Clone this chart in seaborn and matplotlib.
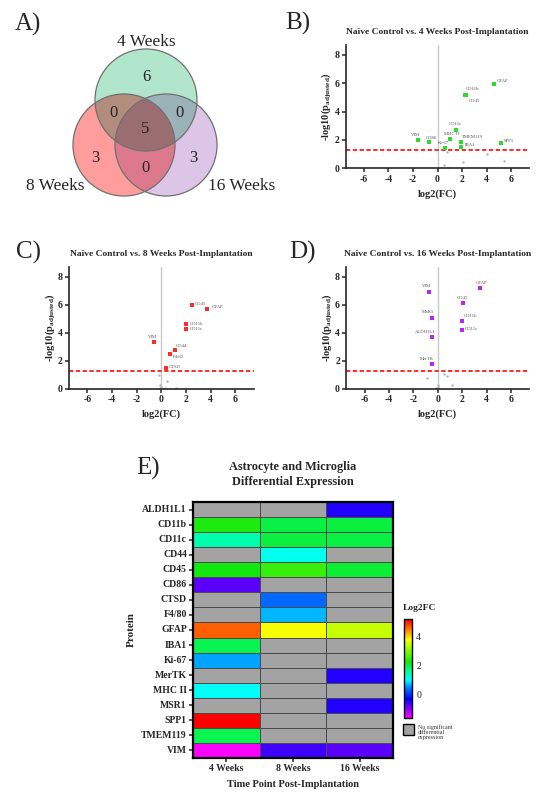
import numpy as np
import pandas as pd
import matplotlib
matplotlib.use("Agg")
import matplotlib.pyplot as plt
from matplotlib.patches import Circle, Rectangle
from matplotlib.colors import LinearSegmentedColormap, ListedColormap, to_rgb
import seaborn as sns

sns.set_style("ticks")
plt.rcParams["font.family"] = ["Liberation Serif", "DejaVu Serif"]
plt.rcParams["mathtext.fontset"] = "custom"
plt.rcParams["mathtext.rm"] = "Liberation Serif"
plt.rcParams["mathtext.bf"] = "Liberation Serif:bold"
plt.rcParams["axes.unicode_minus"] = False

W, H = 539, 794

# ---- data ----
venn_labels = ["4 Weeks", "8 Weeks", "16 Weeks"]
venn_counts = [6, 0, 0, 5, 3, 0, 3]  # 4 only, 4&8, 4&16, all, 8 only, 8&16, 16 only

wk4_protein = ["GFAP", "CD11b", "CD45", "CD11c", "MHC II", "TMEM119", "IBA1", "Ki-67", "VIM", "CD86", "SPP1"]
wk4_log2fc = [4.63, 2.30, 2.22, 1.53, 1.04, 1.91, 1.91, 0.63, -1.60, -0.71, 5.20]
wk4_neglogp = [5.95, 5.20, 5.14, 2.70, 2.05, 1.83, 1.53, 1.46, 2.00, 1.83, 1.76]
wk4_ns_log2fc = [0.76, 4.03, 5.39, 2.07, 0.49, 0.85]
wk4_ns_neglogp = [1.17, 1.00, 0.54, 0.42, 0.24, 0.05]

wk8_protein = ["CD45", "GFAP", "CD11b", "CD11c", "VIM", "CD44", "F4/80", "CTSD"]
wk8_log2fc = [2.47, 3.74, 1.98, 2.00, -0.57, 1.11, 0.71, 0.36]
wk8_neglogp = [5.98, 5.70, 4.60, 4.25, 3.37, 2.78, 2.49, 1.47]
wk8_ns_log2fc = [-0.20, 0.50, -0.10, 0.00, 1.20, -0.10, 0.30]
wk8_ns_neglogp = [1.00, 0.55, 0.30, 0.15, 0.10, 0.05, 0.05]

wk16_protein = ["GFAP", "VIM", "CD45", "MSR1", "CD11b", "CD11c", "ALDH1L1", "MerTK"]
wk16_log2fc = [3.47, -0.71, 2.05, -0.44, 1.99, 1.97, -0.44, -0.44]
wk16_neglogp = [7.17, 6.93, 6.15, 5.08, 4.87, 4.20, 3.68, 1.76]
wk16_ns_log2fc = [-0.90, 0.50, 0.80, 0.00, 0.05, 1.20, -0.10]
wk16_ns_neglogp = [0.75, 1.10, 0.90, 0.30, 0.15, 0.25, 0.08]

heat_proteins = ["ALDH1L1", "CD11b", "CD11c", "CD44", "CD45", "CD86", "CTSD", "F4/80", "GFAP",
                 "IBA1", "Ki-67", "MerTK", "MHC II", "MSR1", "SPP1", "TMEM119", "VIM"]
timepoints = ["4 Weeks", "8 Weeks", "16 Weeks"]

# label offsets (points) and alignment for volcano annotations
wk4_offsets = [(2, 2, "left"), (0, 4, "left"), (3, -4, "left"), (-1, 4, "center"), (1, 4, "center"),
               (1, 4, "left"), (3, 1, "left"), (-1, 3.5, "center"), (-2, 3.5, "center"), (2, 3.5, "center"),
               (2, 2, "left")]
wk8_offsets = [(2, 0.5, "left"), (3, 1.5, "left"), (3, 0, "left"), (3, 0, "left"), (-1, 3.5, "center"),
               (0.5, 3, "left"), (2, -2, "left"), (2, 1, "left")]
wk16_offsets = [(1, 4, "center"), (-2, 4, "center"), (0, 3.5, "center"), (-3, 4, "center"), (1, 3, "left"),
                (2, 1, "left"), (-5, 3.5, "center"), (-4, 4, "center")]

fig = plt.figure(figsize=(W / 100, H / 100), dpi=100)


def px_axes(x0, y0, x1, y1):
    return fig.add_axes([x0 / W, 1 - y1 / H, (x1 - x0) / W, (y1 - y0) / H])


def ftext(x, y, s, **kw):
    fig.text(x / W, 1 - y / H, s, ha=kw.pop("ha", "center"), va=kw.pop("va", "center"), **kw)


# ---- A) Venn (multiply-blended fills) ----
ax_a = px_axes(0, 0, 270, 230)
venn_circles = [((146, 100), "#b3e6cc"), ((124, 145), "#ff9c9c"), ((166, 145), "#dcc6e6")]
R = 51
gx, gy = np.meshgrid(np.arange(0, 270, 0.5) + 0.25, np.arange(0, 230, 0.5) + 0.25)
img = np.ones(gx.shape + (3,))
for (cx, cy), col in venn_circles:
    inside = (gx - cx) ** 2 + (gy - cy) ** 2 <= R ** 2
    img[inside] *= np.array(to_rgb(col))
ax_a.imshow(img, extent=(0, 270, 230, 0), interpolation="bilinear")
for (cx, cy), col in venn_circles:
    ax_a.add_patch(Circle((cx, cy), R, fc="none", ec="#707070", lw=0.9))
ax_a.set_xlim(0, 270)
ax_a.set_ylim(230, 0)
ax_a.axis("off")
count_pos = [(146, 77), (113, 113), (179, 113), (145, 129), (95, 158), (145, 168), (193, 158)]
for (x, y), n in zip(count_pos, venn_counts):
    ax_a.text(x, y, str(n), ha="center", va="center", fontsize=12)
for (x, y), lab in zip([(146, 42), (55, 186), (242, 186)], venn_labels):
    ax_a.text(x, y, lab, ha="center", va="center", fontsize=12.5)
ftext(28, 24, "A)", fontsize=18)


# ---- volcano plots ----
def volcano(ax, prot, fc, p, ns_fc, ns_p, offsets, color, title):
    sig = pd.DataFrame({"protein": prot, "log2fc": fc, "neglogp": p})
    ns = pd.DataFrame({"log2fc": ns_fc, "neglogp": ns_p})
    ax.axvline(0, color="#c8c8c8", lw=1, zorder=0)
    ax.axhline(-np.log10(0.05), color="#ff2a2a", lw=1.4, ls=(0, (2.2, 1.3)), zorder=1)
    sns.scatterplot(data=ns, x="log2fc", y="neglogp", color="#b5b5b5", s=3, linewidth=0, ax=ax, zorder=2)
    sns.scatterplot(data=sig, x="log2fc", y="neglogp", color=color, s=8, marker="s", linewidth=0, ax=ax, zorder=3)
    for (_, r), (dx, dy, ha) in zip(sig.iterrows(), offsets):
        ax.annotate(r["protein"], (r["log2fc"], r["neglogp"]), xytext=(dx, dy), textcoords="offset points",
                    ha=ha, va="center", fontsize=3.4, color="#555555")
    ax.set_xlim(-7.5, 7.5)
    ax.set_ylim(0, 8.7)
    ax.set_xticks(range(-6, 7, 2))
    ax.set_yticks(range(0, 9, 2))
    ax.tick_params(labelsize=7, length=3, width=1.1, pad=1.5)
    for lab in ax.get_xticklabels() + ax.get_yticklabels():
        lab.set_fontweight("bold")
    ax.set_xlabel("log2(FC)", fontsize=7.5, fontweight="bold", labelpad=4)
    ax.set_ylabel(r"-log10(p$_{\mathbf{adjusted}}$)", fontsize=7.5, fontweight="bold", labelpad=0)
    ax.set_title(title, fontsize=6.8, fontweight="bold", pad=8)
    sns.despine(ax=ax)
    for s in ["left", "bottom"]:
        ax.spines[s].set_linewidth(1.2)


ax_b = px_axes(345.6, 45, 529.4, 168.3)
volcano(ax_b, wk4_protein, wk4_log2fc, wk4_neglogp, wk4_ns_log2fc, wk4_ns_neglogp, wk4_offsets,
        "#2edb2e", "Naïve Control vs. 4 Weeks Post-Implantation")
ftext(298, 23, "B)", fontsize=18)

ax_c = px_axes(69, 266.8, 253.6, 389)
volcano(ax_c, wk8_protein, wk8_log2fc, wk8_neglogp, wk8_ns_log2fc, wk8_ns_neglogp, wk8_offsets,
        "#ff2a2a", "Naïve Control vs. 8 Weeks Post-Implantation")
ftext(28, 252, "C)", fontsize=18)

ax_d = px_axes(346.2, 266.8, 529.2, 389)
volcano(ax_d, wk16_protein, wk16_log2fc, wk16_neglogp, wk16_ns_log2fc, wk16_ns_neglogp, wk16_offsets,
        "#b825f5", "Naïve Control vs. 16 Weeks Post-Implantation")
ftext(302, 252, "D)", fontsize=18)

# ---- E) heatmap ----
heat = pd.DataFrame(np.nan, index=heat_proteins, columns=timepoints)
for tp, prot, fc in zip(timepoints, [wk4_protein, wk8_protein, wk16_protein], [wk4_log2fc, wk8_log2fc, wk16_log2fc]):
    for pr, v in zip(prot, fc):
        heat.loc[pr, tp] = v

vmin, vmax = -1.6, 5.2
nodes = [(-1.6, "#ff00ff"), (-0.8, "#6a00ff"), (-0.3, "#0000ff"), (0.4, "#0070ff"), (1.0, "#00ffff"),
         (1.6, "#00ffa0"), (2.2, "#10e810"), (3.3, "#aaff00"), (3.8, "#ffff00"), (4.6, "#ff6600"), (5.2, "#ff0000")]
cmap = LinearSegmentedColormap.from_list("l2fc", [((v - vmin) / (vmax - vmin), c) for v, c in nodes])

ax_e = px_axes(193, 502, 393, 758)
cax = px_axes(404, 619, 412, 718)
sns.heatmap(np.ones(heat.shape), mask=heat.notna().values, cmap=ListedColormap(["#a3a3a3"]), cbar=False,
            linewidths=0.7, linecolor="#4a4a4a", ax=ax_e)
sns.heatmap(heat, mask=heat.isna(), cmap=cmap, vmin=vmin, vmax=vmax, linewidths=0.7, linecolor="#4a4a4a",
            ax=ax_e, cbar_ax=cax)
ax_e.set_yticklabels(heat_proteins, rotation=0)
ax_e.tick_params(length=3, width=1.1, labelsize=7, pad=1.5)
for lab in ax_e.get_xticklabels() + ax_e.get_yticklabels():
    lab.set_fontweight("bold")
for s in ax_e.spines.values():
    s.set_visible(True)
    s.set_linewidth(1.6)
    s.set_color("black")
ax_e.set_xlabel("Time Point Post-Implantation", fontsize=7.5, fontweight="bold", labelpad=5)
ax_e.set_ylabel("Protein", fontsize=8, fontweight="bold", labelpad=4)
ax_e.set_title("Astrocyte and Microglia\nDifferential Expression", fontsize=8.8, fontweight="bold", pad=12,
               linespacing=1.35)
ftext(148, 468, "E)", fontsize=18)

cb = ax_e.collections[1].colorbar
cb.set_ticks([0, 2, 4])
cb.outline.set_linewidth(1)
cb.outline.set_edgecolor("black")
cax.tick_params(labelsize=7, length=3, width=1, direction="in", pad=3)
cax.yaxis.set_ticks_position("both")
cax.yaxis.set_label_position("right")
ftext(403, 608, "Log2FC", fontsize=6.8, fontweight="bold", ha="left")
fig.add_artist(Rectangle((403 / W, 1 - 735 / H), 11 / W, 11 / H, transform=fig.transFigure,
                         fc="#a3a3a3", ec="black", lw=1))
ftext(418, 724, "No significant\ndifferential\nexpression", fontsize=4.3, ha="left", va="top",
      color="#333333", linespacing=1.1)

fig.savefig("out.png", dpi=100)
